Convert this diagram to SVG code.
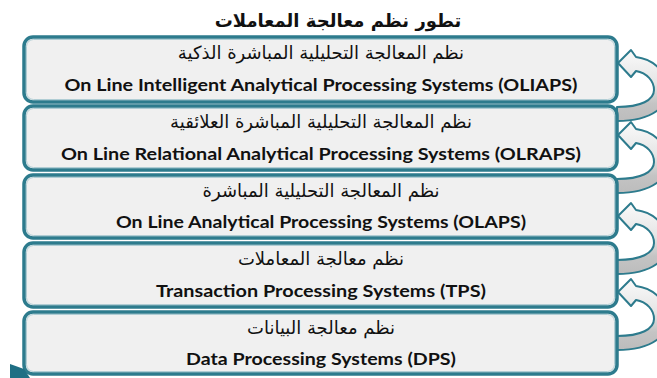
<svg xmlns="http://www.w3.org/2000/svg" width="657" height="378" viewBox="0 0 657 378">
<style>
.box{fill:#f0f0f0;stroke:#2d7b8d;stroke-width:3.5}
.inner{fill:none;stroke:#a8c8d0;stroke-width:0.9}
.ar{font-family:"DejaVu Sans",sans-serif;font-size:18px;fill:#111;text-anchor:middle}
.en{font-family:Lato,"Liberation Sans",sans-serif;font-weight:bold;font-size:17px;fill:#111;text-anchor:middle}
.title{font-family:"DejaVu Sans",sans-serif;font-weight:bold;font-size:18px;fill:#111;text-anchor:middle}
.arrow{fill:url(#ag);stroke:#2d7b8d;stroke-width:2;stroke-linejoin:round}
</style>
<defs>
<linearGradient id="ag" x1="0" y1="0" x2="0" y2="1">
<stop offset="0" stop-color="#fafafa"/>
<stop offset="0.45" stop-color="#e6e6e6"/>
<stop offset="0.75" stop-color="#c4c4c4"/>
<stop offset="1" stop-color="#bcbcbc"/>
</linearGradient>
<path id="arr" class="arrow" d="M617 107 L617 121 C652 121 670 106 668 88 C666 70 652 59 636 57 L631 50 L618 63 L631 77 L636 71 C647 73 654 81 654 90 C654 100 641 107 617 107 Z"/>
</defs>
<text class="title" x="338" y="27">تطور نظم معالجة المعاملات</text>
<g id="connectors">
<use href="#arr"/>
<use href="#arr" transform="translate(0,72)"/>
<use href="#arr" transform="translate(0,153)"/>
<use href="#arr" transform="translate(0,229)"/>
</g>
<g id="n1">
<rect class="box" x="24" y="37" width="593" height="65" rx="9"/>
<rect class="inner" x="26.5" y="39.5" width="588" height="60" rx="7"/>
<text class="ar" x="321" y="59">نظم المعالجة التحليلية المباشرة الذكية</text>
<text class="en" x="321" y="91" textLength="513" lengthAdjust="spacingAndGlyphs">On Line Intelligent Analytical Processing Systems (OLIAPS)</text>
</g>
<g id="n2">
<rect class="box" x="24" y="106" width="593" height="64" rx="9"/>
<rect class="inner" x="26.5" y="108.5" width="588" height="59" rx="7"/>
<text class="ar" x="321" y="128">نظم المعالجة التحليلية المباشرة العلائقية</text>
<text class="en" x="321" y="160" textLength="520" lengthAdjust="spacingAndGlyphs">On Line Relational Analytical Processing Systems (OLRAPS)</text>
</g>
<g id="n3">
<rect class="box" x="24" y="175" width="593" height="63" rx="9"/>
<rect class="inner" x="26.5" y="177.5" width="588" height="58" rx="7"/>
<text class="ar" x="321" y="197">نظم المعالجة التحليلية المباشرة</text>
<text class="en" x="321" y="228" textLength="410" lengthAdjust="spacingAndGlyphs">On Line Analytical Processing Systems (OLAPS)</text>
</g>
<g id="n4">
<rect class="box" x="24" y="243" width="593" height="64" rx="9"/>
<rect class="inner" x="26.5" y="245.5" width="588" height="59" rx="7"/>
<text class="ar" x="321" y="265">نظم معالجة المعاملات</text>
<text class="en" x="321" y="297" textLength="330" lengthAdjust="spacingAndGlyphs">Transaction Processing Systems (TPS)</text>
</g>
<g id="n5">
<rect class="box" x="24" y="312" width="593" height="62" rx="9"/>
<rect class="inner" x="26.5" y="314.5" width="588" height="57" rx="7"/>
<text class="ar" x="321" y="334">نظم معالجة البيانات</text>
<text class="en" x="321" y="365" textLength="270" lengthAdjust="spacingAndGlyphs">Data Processing Systems (DPS)</text>
</g>
<polygon points="10,364 24,369 30,378 10,378" fill="#1f6f84"/>
</svg>
